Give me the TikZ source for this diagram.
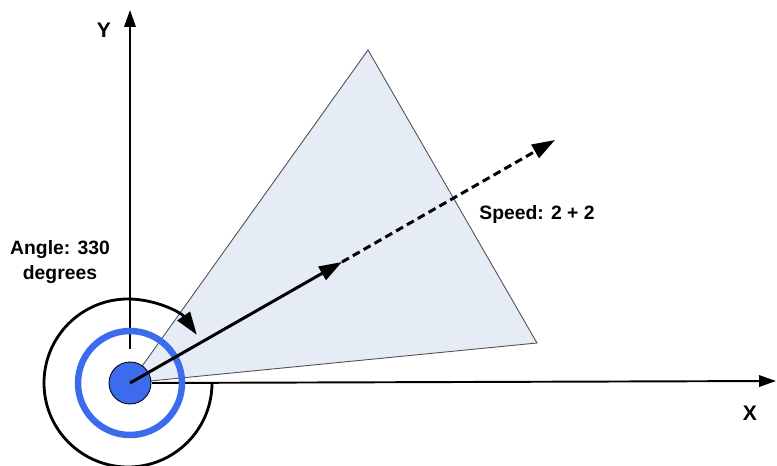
\documentclass[tikz,border=0pt]{standalone}
\usepackage{fontspec}
\setmainfont{Liberation Sans}
\usetikzlibrary{arrows.meta,positioning}
\definecolor{cplano}{HTML}{E6ECF6}
\definecolor{cazul}{HTML}{3D6BEE}
\definecolor{cborde}{HTML}{505050}
\tikzset{
  eje/.style={-{Triangle[length=3.4mm,width=2.3mm]},draw=black,line width=1.1pt},
  vector/.style={-{Triangle[length=4.6mm,width=3mm]},draw=black,line width=1.7pt},
  vectord/.style={vector,dash pattern=on 4.5pt off 2.6pt},
  giro/.style={vector,line width=1.6pt},
  sector/.style={fill=cplano,draw=cborde,line width=0.5pt},
  anillo/.style={draw=cazul,line width=3.7pt},
  disco/.style={circle,fill=cazul,draw=black,line width=0.5pt,minimum size=8.4mm,inner sep=0pt},
  et/.style={font=\fontsize{11}{14}\selectfont\bfseries,inner sep=1pt,align=center},
  etg/.style={et,font=\fontsize{12}{14}\selectfont\bfseries},
}
\begin{document}
\begin{tikzpicture}[x=0.02cm,y=0.02cm]
\useasboundingbox (0,0) rectangle (777,466);

% ---------------- puntos ----------------
\coordinate (O)  at (130,83);
\coordinate (y0) at (130,117);
\coordinate (y1) at (130,456);
\coordinate (x0) at (152,83);
\coordinate (x1) at (776,85);
\coordinate (tA) at (368,416);
\coordinate (tB) at (537,123);
\coordinate (vm) at (342,204);
\coordinate (vf) at (555,326);
\coordinate (g0) at (212,83);

% ---------------- sector ----------------
\draw[sector] (O) -- (tA) -- (tB) -- cycle;

% ---------------- ejes ----------------
\draw[eje] (y0) -- (y1);
\draw[eje] (x0) -- (x1);
\node[etg] (ly) at (104,436) {Y};
\node[etg] (lx) at (750,53)  {X};

% ---------------- giro ----------------
\draw[giro] (g0) arc[start angle=0,end angle=-325,radius=84];
\draw[anillo] (O) circle[radius=52];
\node[disco] (d) at (O) {};
\node[et] (lang) at (60,204) {Angle: 330\\degrees};

% ---------------- velocidad ----------------
\draw[vector] (d.center) -- (vm);
\draw[vectord] (vm) -- (vf);
\node[et] (lvel) at (537,251) {Speed: 2 + 2};

\end{tikzpicture}
\end{document}
